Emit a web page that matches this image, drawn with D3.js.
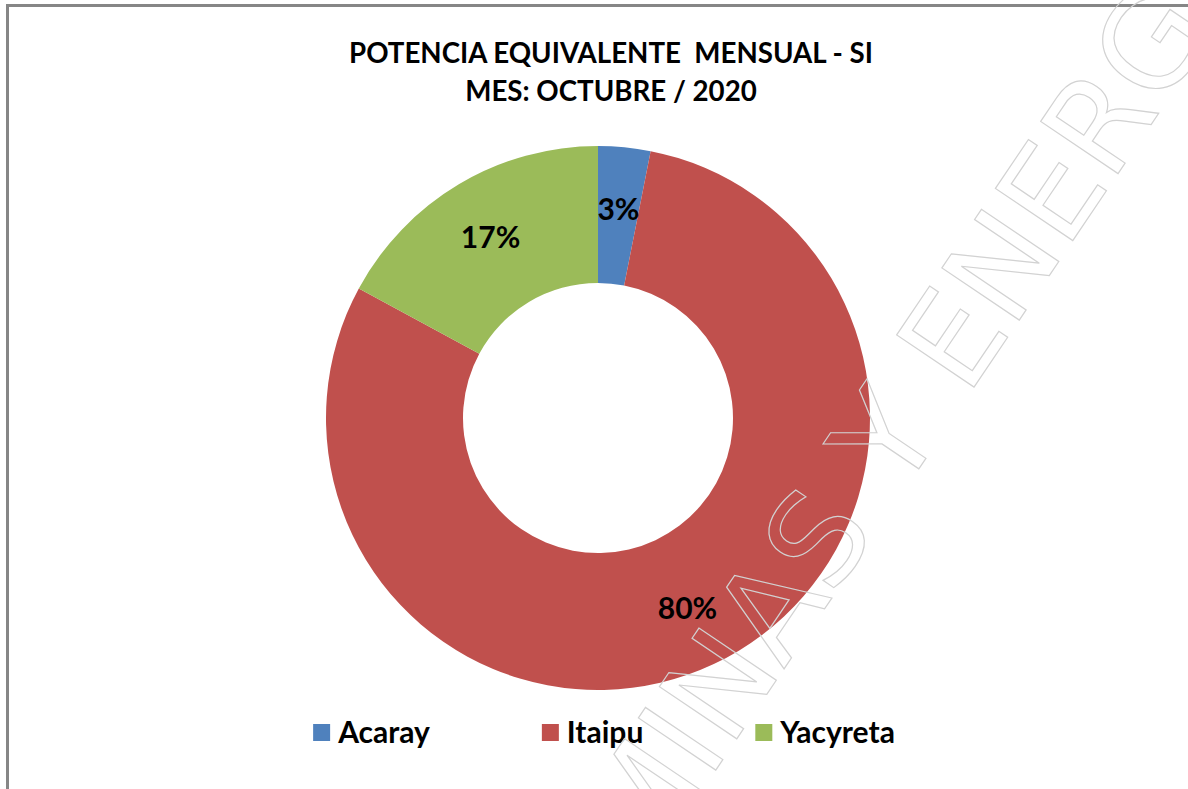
<!DOCTYPE html>
<html>
<head>
<meta charset="utf-8">
<script src="https://cdn.jsdelivr.net/npm/d3@7"></script>
<style>
  body { margin: 0; background: #fff; }
  text { font-family: Lato, "Open Sans", sans-serif; font-weight: bold; }
</style>
</head>
<body>
<div id="chart"></div>
<script>
// data
var categories = ["Acaray", "Itaipu", "Yacyreta"];
var shares     = [3.1, 79.8, 17.1];
var colors     = ["#4F81BD", "#C0504D", "#9BBB59"];
var titleLines = ["POTENCIA EQUIVALENTE  MENSUAL - SI", "MES: OCTUBRE / 2020"];
var watermark  = "MINAS Y ENERGIA";

var width = 1188, height = 789;
var cx = 598, cy = 418, rOuter = 272, rInner = 135;

var svg = d3.select("#chart").append("svg")
    .attr("width", width)
    .attr("height", height);

// chart area frame (only top and left edges fall inside the picture)
svg.append("rect")
    .attr("x", 7.5).attr("y", 5.5)
    .attr("width", 1300).attr("height", 900)
    .attr("fill", "none")
    .attr("stroke", "#868686")
    .attr("stroke-width", 3);

// title
svg.selectAll("text.title")
  .data(titleLines)
  .enter().append("text")
    .attr("class", "title")
    .attr("x", 611)
    .attr("y", function(d, i) { return 63 + i * 38 })
    .attr("text-anchor", "middle")
    .attr("font-size", 27.7)
    .attr("fill", "#000")
    .style("white-space", "pre")
    .text(function(d) { return d });

// donut
var pie = d3.pie().sort(null).value(function(d) { return d });
var arc = d3.arc().innerRadius(rInner).outerRadius(rOuter);
var labelArc = d3.arc().innerRadius(210).outerRadius(210);
var arcs = pie(shares);

var g = svg.append("g").attr("transform", "translate(" + cx + "," + cy + ")");

g.selectAll("path")
  .data(arcs)
  .enter().append("path")
    .attr("d", arc)
    .attr("fill", function(d, i) { return colors[i] });

g.selectAll("text.pct")
  .data(arcs)
  .enter().append("text")
    .attr("class", "pct")
    .attr("transform", function(d) { return "translate(" + labelArc.centroid(d) + ")" })
    .attr("text-anchor", "middle")
    .attr("dy", "0.36em")
    .attr("font-size", 30)
    .attr("fill", "#000")
    .text(function(d) { return d3.format(".0f")(d.data) + "%" });

// legend
var legend = svg.append("g");
var items = legend.selectAll("g")
  .data(categories)
  .enter().append("g");

items.append("rect")
    .attr("y", 724)
    .attr("width", 17).attr("height", 17)
    .attr("fill", function(d, i) { return colors[i] });

items.append("text")
    .attr("x", 25)
    .attr("y", 743)
    .attr("font-size", 30)
    .attr("fill", "#000")
    .text(function(d) { return d });

var xPos = 0, offsets = [];
items.each(function() {
  offsets.push(xPos);
  xPos += 25 + d3.select(this).select("text").node().getComputedTextLength() + 112;
});
var total = xPos - 112;
var start = 604 - total / 2;
items.attr("transform", function(d, i) { return "translate(" + (start + offsets[i]) + ",0)" });

// outlined watermark across the chart
svg.append("text")
    .attr("transform", "translate(647,872) rotate(-56)")
    .style("font-family", "'DejaVu Sans', sans-serif")
    .style("font-weight", "normal")
    .attr("font-size", 128)
    .attr("fill", "none")
    .attr("stroke", "#d2d2d2")
    .attr("stroke-width", 1.2)
    .text(watermark);
</script>
</body>
</html>
